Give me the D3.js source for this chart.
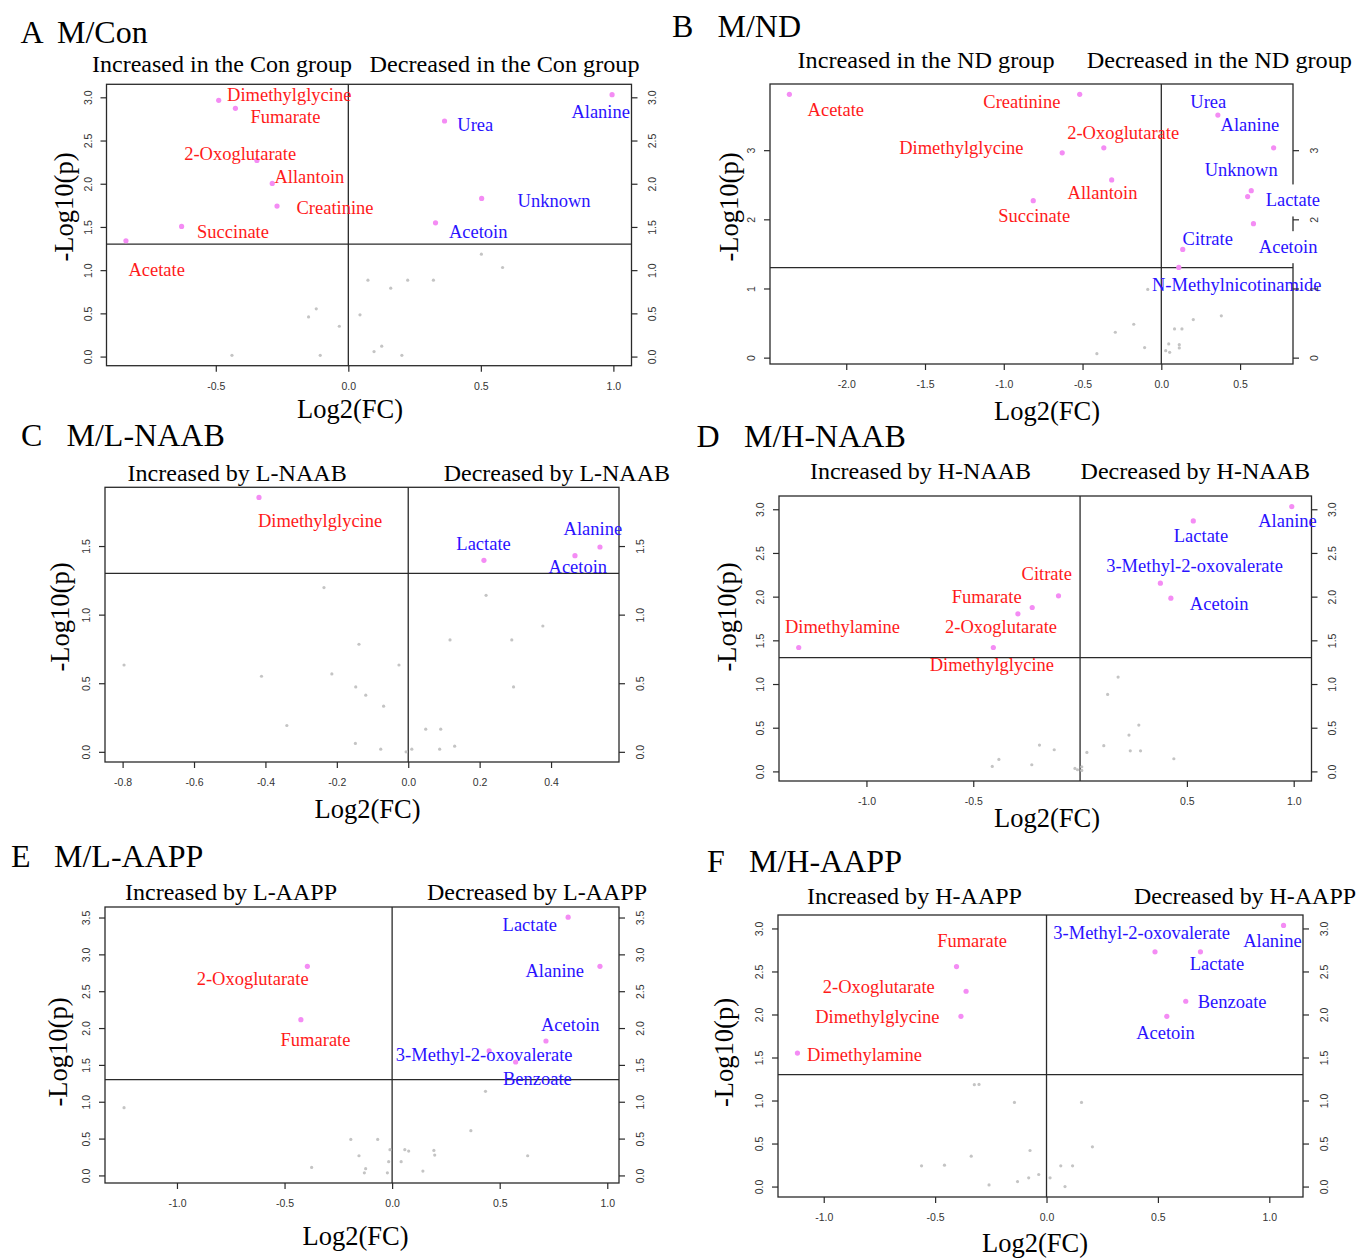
<!DOCTYPE html>
<html>
<head>
<meta charset="utf-8">
<script src="https://cdn.jsdelivr.net/npm/d3@7"></script>
<style>
  html, body { margin: 0; padding: 0; background: #fff; }
  svg { display: block; }
</style>
</head>
<body>
<svg id="fig" width="1357" height="1260"></svg>
<script>
// ---------- Panel A: M/Con ----------
const aNames = ["Dimethylglycine", "Fumarate", "2-Oxoglutarate", "Allantoin", "Creatinine", "Succinate", "Acetate", "Urea", "Alanine", "Unknown", "Acetoin"];
const aFC = [-0.489, -0.426, -0.345, -0.287, -0.269, -0.629, -0.839, 0.363, 0.995, 0.503, 0.329];
const aP = [2.965, 2.873, 2.27, 2.004, 1.741, 1.506, 1.34, 2.726, 3.03, 1.83, 1.548];
const aLabelAt = [[-0.223, 3.035], [-0.237, 2.776], [-0.408, 2.344], [-0.147, 2.081], [-0.05, 1.722], [-0.435, 1.452], [-0.723, 1.008], [0.479, 2.687], [0.952, 2.834], [0.776, 1.811], [0.49, 1.452]];
const aNsFC = [0.502, 0.582, 0.074, 0.224, 0.321, 0.160, -0.121, -0.15, 0.044, -0.034, 0.126, 0.097, -0.439, -0.106, 0.202];
const aNsP = [1.185, 1.031, 0.884, 0.884, 0.884, 0.792, 0.552, 0.459, 0.483, 0.351, 0.120, 0.058, 0.015, 0.015, 0.015];
const aXTicks = [-0.5, 0.0, 0.5, 1.0];
const aYTicks = [0.0, 0.5, 1.0, 1.5, 2.0, 2.5, 3.0];
const aCaptions = ["Increased in the Con group", "Decreased in the Con group"];

// ---------- Panel B: M/ND ----------
const bNames = ["Acetate", "Creatinine", "2-Oxoglutarate", "Dimethylglycine", "Allantoin", "Succinate", "Urea", "Alanine", "Unknown", "Lactate", "Acetoin", "Citrate", "N-Methylnicotinamide"];
const bFC = [-2.361, -0.518, -0.365, -0.629, -0.315, -0.813, 0.359, 0.713, 0.571, 0.548, 0.585, 0.136, 0.111];
const bP = [3.807, 3.807, 3.034, 2.961, 2.57, 2.27, 3.507, 3.034, 2.415, 2.329, 1.937, 1.565, 1.304];
const bLabelAt = [[-2.066, 3.594], [-0.885, 3.705], [-0.242, 3.261], [-1.269, 3.043], [-0.373, 2.386], [-0.807, 2.048], [0.298, 3.705], [0.562, 3.377], [0.507, 2.715], [0.835, 2.28], [0.805, 1.604], [0.295, 1.72], [0.479, 1.063]];
const bNsFC = [-0.086, -0.175, -0.292, 0.203, 0.381, 0.084, 0.131, 0.047, 0.114, 0.114, -0.106, 0.028, 0.053, -0.409];
const bNsP = [0.986, 0.483, 0.367, 0.551, 0.604, 0.415, 0.415, 0.198, 0.188, 0.14, 0.145, 0.101, 0.077, 0.058];
const bXTicks = [-2.0, -1.5, -1.0, -0.5, 0.0, 0.5];
const bYTicks = [0, 1, 2, 3];
const bCaptions = ["Increased in the ND group", "Decreased in the ND group"];

// ---------- Panel C: M/L-NAAB ----------
const cNames = ["Dimethylglycine", "Lactate", "Acetoin", "Alanine"];
const cFC = [-0.418, 0.212, 0.467, 0.537];
const cP = [1.854, 1.396, 1.43, 1.493];
const cLabelAt = [[-0.247, 1.687], [0.211, 1.517], [0.475, 1.35], [0.517, 1.629]];
const cNsFC = [-0.236, 0.218, 0.377, 0.117, 0.29, -0.138, -0.796, -0.026, -0.411, -0.214, -0.147, 0.295, -0.119, -0.069, -0.34, 0.049, 0.091, -0.148, -0.077, -0.006, 0.01, 0.088, 0.13];
const cNsP = [1.197, 1.141, 0.917, 0.816, 0.816, 0.784, 0.633, 0.633, 0.551, 0.568, 0.473, 0.473, 0.413, 0.333, 0.192, 0.165, 0.165, 0.061, 0.019, 0.0, 0.019, 0.019, 0.041];
const cXTicks = [-0.8, -0.6, -0.4, -0.2, 0.0, 0.2, 0.4];
const cYTicks = [0.0, 0.5, 1.0, 1.5];
const cCaptions = ["Increased by L-NAAB", "Decreased by L-NAAB"];

// ---------- Panel D: M/H-NAAB ----------
const dNames = ["Alanine", "Lactate", "3-Methyl-2-oxovalerate", "Acetoin", "Citrate", "Fumarate", "2-Oxoglutarate", "Dimethylglycine", "Dimethylamine"];
const dFC = [0.991, 0.53, 0.376, 0.425, -0.101, -0.224, -0.291, -0.406, -1.317];
const dP = [3.031, 2.867, 2.154, 1.982, 2.009, 1.876, 1.803, 1.418, 1.418];
const dLabelAt = [[0.971, 2.875], [0.566, 2.703], [0.536, 2.356], [0.651, 1.921], [-0.156, 2.268], [-0.437, 2.002], [-0.37, 1.655], [-0.413, 1.224], [-1.112, 1.655]];
const dNsFC = [0.178, 0.129, 0.275, 0.229, 0.111, -0.19, -0.121, 0.235, 0.283, 0.032, 0.439, -0.38, -0.411, -0.226, -0.024, -0.012, 0.008, 0.008];
const dNsP = [1.079, 0.881, 0.53, 0.416, 0.294, 0.301, 0.248, 0.236, 0.236, 0.217, 0.145, 0.137, 0.057, 0.076, 0.034, 0.019, 0.053, 0.011];
const dXTicks = [-1.0, -0.5, 0.5, 1.0];
const dYTicks = [0.0, 0.5, 1.0, 1.5, 2.0, 2.5, 3.0];
const dCaptions = ["Increased by H-NAAB", "Decreased by H-NAAB"];

// ---------- Panel E: M/L-AAPP ----------
const eNames = ["Lactate", "Alanine", "2-Oxoglutarate", "Fumarate", "Acetoin", "3-Methyl-2-oxovalerate", "Benzoate"];
const eFC = [0.818, 0.966, -0.394, -0.424, 0.715, 0.451, 0.574];
const eP = [3.504, 2.838, 2.838, 2.114, 1.824, 1.689, 1.539];
const eLabelAt = [[0.640, 3.409], [0.756, 2.78], [-0.648, 2.675], [-0.356, 1.842], [0.828, 2.046], [0.428, 1.634], [0.675, 1.317]];
const eNsFC = [-1.246, 0.434, 0.366, -0.192, -0.067, -0.01, 0.059, 0.077, 0.194, 0.198, -0.154, 0.63, -0.016, 0.042, -0.374, -0.123, -0.129, -0.022, 0.143];
const eNsP = [0.919, 1.141, 0.607, 0.489, 0.489, 0.349, 0.349, 0.33, 0.34, 0.276, 0.267, 0.267, 0.186, 0.186, 0.109, 0.091, 0.036, 0.036, 0.059];
const eXTicks = [-1.0, -0.5, 0.0, 0.5, 1.0];
const eYTicks = [0.0, 0.5, 1.0, 1.5, 2.0, 2.5, 3.0, 3.5];
const eCaptions = ["Increased by L-AAPP", "Decreased by L-AAPP"];

// ---------- Panel F: M/H-AAPP ----------
const fNames = ["Alanine", "3-Methyl-2-oxovalerate", "Lactate", "Benzoate", "Acetoin", "Fumarate", "2-Oxoglutarate", "Dimethylglycine", "Dimethylamine"];
const fFC = [1.064, 0.487, 0.691, 0.625, 0.54, -0.404, -0.361, -0.384, -1.118];
const fP = [3.035, 2.728, 2.728, 2.154, 1.979, 2.557, 2.27, 1.979, 1.552];
const fLabelAt = [[1.014, 2.864], [0.427, 2.957], [0.765, 2.596], [0.833, 2.15], [0.534, 1.793], [-0.334, 2.864], [-0.753, 2.324], [-0.759, 1.975], [-0.817, 1.533]];
const fNsFC = [-0.324, -0.303, -0.144, 0.157, 0.206, -0.074, -0.338, -0.561, -0.458, 0.064, 0.117, -0.035, 0.016, -0.08, -0.13, -0.258, 0.083];
const fNsP = [1.184, 1.187, 0.978, 0.978, 0.462, 0.419, 0.353, 0.241, 0.248, 0.241, 0.241, 0.14, 0.101, 0.101, 0.058, 0.019, 0.0];
const fXTicks = [-1.0, -0.5, 0.0, 0.5, 1.0];
const fYTicks = [0.0, 0.5, 1.0, 1.5, 2.0, 2.5, 3.0];
const fCaptions = ["Increased by H-AAPP", "Decreased by H-AAPP"];

// p = 0.05 significance cut-off on the -log10 scale
const P_CUTOFF = -Math.log10(0.05);

// Panel table assembled from the arrays above plus page placement
const panels = [
  { letter: "A", title: "M/Con", names: aNames, fc: aFC, p: aP, lab: aLabelAt, nsFC: aNsFC, nsP: aNsP, xt: aXTicks, yt: aYTicks, cap: aCaptions,
    box: [106.5, 84.3, 631.5, 365.7], letterX: 20.6, titleX: 57, titleY: 43,
    capL: [92, 352], capR: [369.5, 639.5], capY: 72, yLab: [64, 207], xLab: [350, 418], knock: [] },
  { letter: "B", title: "M/ND", names: bNames, fc: bFC, p: bP, lab: bLabelAt, nsFC: bNsFC, nsP: bNsP, xt: bXTicks, yt: bYTicks, cap: bCaptions,
    box: [770, 84, 1293, 364], letterX: 672, titleX: 717.5, titleY: 37,
    capL: [797.5, 1054.6], capR: [1086.7, 1352], capY: 67.5, yLab: [729, 207], xLab: [1047, 420], knock: ["Lactate", "Acetoin"], intY: true },
  { letter: "C", title: "M/L-NAAB", names: cNames, fc: cFC, p: cP, lab: cLabelAt, nsFC: cNsFC, nsP: cNsP, xt: cXTicks, yt: cYTicks, cap: cCaptions,
    box: [105, 487.3, 619, 762], letterX: 21, titleX: 66.5, titleY: 446,
    capL: [127.5, 346.7], capR: [443.7, 670], capY: 481, yLab: [60, 617], xLab: [367.5, 818], knock: [] },
  { letter: "D", title: "M/H-NAAB", names: dNames, fc: dFC, p: dP, lab: dLabelAt, nsFC: dNsFC, nsP: dNsP, xt: dXTicks, yt: dYTicks, cap: dCaptions,
    box: [779, 496, 1311.5, 781], letterX: 696.5, titleX: 744, titleY: 447,
    capL: [810, 1031], capR: [1080.6, 1310], capY: 479, yLab: [726.5, 617], xLab: [1047, 827], knock: [] },
  { letter: "E", title: "M/L-AAPP", names: eNames, fc: eFC, p: eP, lab: eLabelAt, nsFC: eNsFC, nsP: eNsP, xt: eXTicks, yt: eYTicks, cap: eCaptions,
    box: [105, 907, 619, 1183], letterX: 11, titleX: 54, titleY: 867,
    capL: [125, 337], capR: [427, 647], capY: 900, yLab: [57.7, 1052], xLab: [355.5, 1245], knock: [] },
  { letter: "F", title: "M/H-AAPP", names: fNames, fc: fFC, p: fP, lab: fLabelAt, nsFC: fNsFC, nsP: fNsP, xt: fXTicks, yt: fYTicks, cap: fCaptions,
    box: [778, 915, 1303, 1197], letterX: 707, titleX: 749, titleY: 872,
    capL: [807, 1022], capR: [1134, 1356], capY: 904, yLab: [724, 1052.5], xLab: [1035, 1252], knock: [] }
];

const SERIF = "'Liberation Serif', 'Times New Roman', Times, serif";
const SANS = "'Liberation Sans', Arial, Helvetica, sans-serif";
const INK = "#2a2a2a";
const UP_COLOR = "#ff1a1a";     // higher in model group (negative log2 FC)
const DOWN_COLOR = "#2a12ff";   // lower in model group (positive log2 FC)
const SIG_DOT = "#f48cf4";
const NS_DOT = "#c4c4c4";

// tick labels written with a plain hyphen for negatives
const fmt1 = v => v.toFixed(1);
const fmt0 = v => v.toFixed(0);

const svg = d3.select("#fig");

// base-graphics style range: data extent widened by 4% on each side
function paddedExtent(values) {
  const [lo, hi] = d3.extent(values);
  const pad = (hi - lo) * 0.04;
  return [lo - pad, hi + pad];
}

function drawPanel(P) {
  const g = svg.append("g").attr("class", "panel-" + P.letter);
  const [x0, y0, x1, y1] = P.box;

  const x = d3.scaleLinear().domain(paddedExtent(P.fc.concat(P.nsFC))).range([x0, x1]);
  const y = d3.scaleLinear().domain(paddedExtent(P.p.concat(P.nsP))).range([y1, y0]);

  // panel heading
  g.append("text").attr("x", P.letterX).attr("y", P.titleY)
    .attr("font-family", SERIF).attr("font-size", 32).attr("fill", "#000").text(P.letter);
  g.append("text").attr("x", P.titleX).attr("y", P.titleY)
    .attr("font-family", SERIF).attr("font-size", 32).attr("fill", "#000").text(P.title);

  // direction captions above the plot
  [[P.cap[0], P.capL], [P.cap[1], P.capR]].forEach(([txt, span]) => {
    g.append("text").attr("x", span[0]).attr("y", P.capY)
      .attr("font-family", SERIF).attr("font-size", 24).attr("fill", "#000")
      .attr("textLength", span[1] - span[0]).attr("lengthAdjust", "spacingAndGlyphs")
      .text(txt);
  });

  // plot frame
  g.append("rect").attr("x", x0).attr("y", y0).attr("width", x1 - x0).attr("height", y1 - y0)
    .attr("fill", "none").attr("stroke", INK).attr("stroke-width", 1.3);

  // cut-off lines: p = 0.05 and log2 FC = 0
  g.append("line").attr("x1", x0).attr("x2", x1).attr("y1", y(P_CUTOFF)).attr("y2", y(P_CUTOFF))
    .attr("stroke", INK).attr("stroke-width", 1.3);
  g.append("line").attr("x1", x(0)).attr("x2", x(0)).attr("y1", y0).attr("y2", y1)
    .attr("stroke", INK).attr("stroke-width", 1.3);

  // non-significant metabolites
  g.append("g").selectAll("circle").data(d3.range(P.nsFC.length)).join("circle")
    .attr("cx", i => x(P.nsFC[i])).attr("cy", i => y(P.nsP[i])).attr("r", 1.6)
    .attr("fill", NS_DOT);

  // significant metabolites
  g.append("g").selectAll("circle").data(d3.range(P.fc.length)).join("circle")
    .attr("cx", i => x(P.fc[i])).attr("cy", i => y(P.p[i])).attr("r", 2.6)
    .attr("fill", SIG_DOT);

  // metabolite names
  const labels = g.append("g");
  P.names.forEach((name, i) => {
    const lg = labels.append("g");
    const t = lg.append("text")
      .attr("x", x(P.lab[i][0])).attr("y", y(P.lab[i][1])).attr("dy", "0.35em")
      .attr("text-anchor", "middle")
      .attr("font-family", SERIF).attr("font-size", 18.5)
      .attr("fill", P.fc[i] < 0 ? UP_COLOR : DOWN_COLOR)
      .text(name);
    if (P.knock.includes(name)) {
      const bb = t.node().getBBox();
      lg.insert("rect", "text").attr("x", bb.x - 2).attr("y", bb.y - 6)
        .attr("width", bb.width + 4).attr("height", bb.height + 12).attr("fill", "#fff");
    }
  });

  const fmtY = P.intY ? fmt0 : fmt1;
  const tickStyle = sel => {
    sel.select(".domain").remove();
    sel.selectAll(".tick line").attr("stroke", INK).attr("stroke-width", 1.2);
    sel.selectAll(".tick text").attr("font-family", SANS).attr("font-size", 10.5).attr("fill", "#333");
  };

  // bottom axis
  const gx = g.append("g").attr("transform", `translate(0,${y1})`)
    .call(d3.axisBottom(x).tickValues(P.xt).tickFormat(fmt1).tickSize(6).tickPadding(9));
  tickStyle(gx);
  gx.selectAll(".tick text").attr("y", 20.5).attr("dy", "0.35em");

  // left axis with labels running along the axis
  const gl = g.append("g").attr("transform", `translate(${x0},0)`)
    .call(d3.axisLeft(y).tickValues(P.yt).tickFormat(fmtY).tickSize(6));
  tickStyle(gl);
  gl.selectAll(".tick text").attr("x", null).attr("dy", "0.35em")
    .attr("text-anchor", "middle").attr("transform", "translate(-18.5,0) rotate(-90)");

  // right axis, mirrored
  const gr = g.append("g").attr("transform", `translate(${x1},0)`)
    .call(d3.axisRight(y).tickValues(P.yt).tickFormat(fmtY).tickSize(6));
  tickStyle(gr);
  gr.selectAll(".tick text").attr("x", null).attr("dy", "0.35em")
    .attr("text-anchor", "middle").attr("transform", "translate(21,0) rotate(-90)");

  // axis titles
  g.append("text").attr("transform", `translate(${P.yLab[0]},${P.yLab[1]}) rotate(-90)`)
    .attr("dy", "0.35em").attr("text-anchor", "middle")
    .attr("font-family", SERIF).attr("font-size", 26.5).attr("fill", "#000").text("-Log10(p)");
  g.append("text").attr("x", P.xLab[0]).attr("y", P.xLab[1]).attr("text-anchor", "middle")
    .attr("font-family", SERIF).attr("font-size", 26.5).attr("fill", "#000").text("Log2(FC)");
}

panels.forEach(drawPanel);
</script>
</body>
</html>
